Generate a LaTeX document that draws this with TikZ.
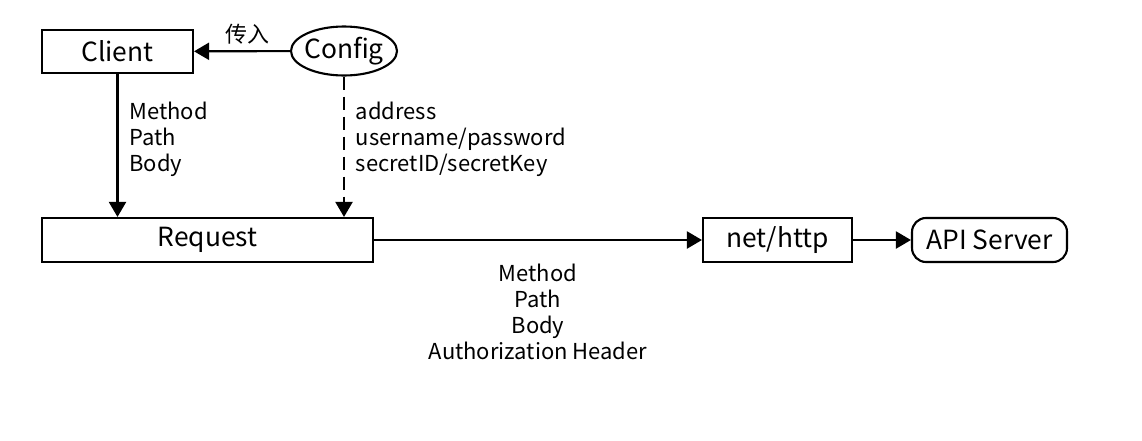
\documentclass[tikz,border=0pt]{standalone}
\usepackage{fontspec}
\setmainfont{Noto Sans CJK SC}
\usepackage{tikz}
\usetikzlibrary{arrows.meta, positioning, shapes.geometric}

\begin{document}
\begin{tikzpicture}[
box/.style={draw, line width=1.2pt, minimum height=0.88cm, align=center, font=\fontsize{15}{18}\selectfont},
arr/.style={-{Triangle[length=3mm, width=3.4mm]}, line width=1.2pt},
lbl/.style={font=\fontsize{12.5}{14.8}\selectfont}
]
\useasboundingbox (0,0) rectangle (22.84,-8.8);
\node[box, minimum width=3.02cm, minimum height=0.86cm] (client) at (2.35,-1.03) {Client};
\node[box, ellipse, inner xsep=-2pt, inner ysep=0pt, minimum width=2.12cm, minimum height=0.98cm] (config) at (6.88,-1.02) {Config};
\node[box, minimum width=6.62cm] (request) at (4.15,-4.8) {Request};
\node[box, minimum width=2.98cm] (nethttp) at (15.55,-4.8) {net/http};
\node[box, rounded corners=0.28cm, minimum width=3.1cm] (apiserver) at (19.79,-4.8) {API Server};
\draw[arr] (config) -- node[lbl, above, xshift=1mm] {传入} (client);
\draw[arr] (client.south) -- node[lbl, right=1mm, pos=0.46, align=left] {Method\\Path\\Body} (client.south |- request.north);
\draw[arr, dash pattern=on 0.26cm off 0.14cm] (config.south) -- node[lbl, right=1mm, pos=0.45, align=left] {address\\username/password\\secretID/secretKey} (config.south |- request.north);
\draw[arr] (request) -- node[lbl, below=3.4mm, align=center] {Method\\Path\\Body\\Authorization Header} (nethttp);
\draw[arr] (nethttp) -- (apiserver);
\end{tikzpicture}
\end{document}
